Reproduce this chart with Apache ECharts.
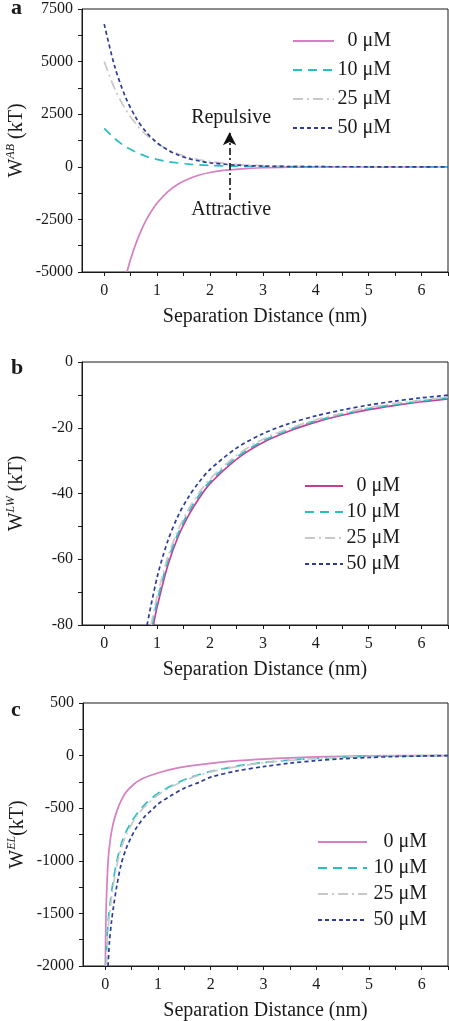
<!DOCTYPE html>
<html><head><meta charset="utf-8">
<script src="https://cdn.jsdelivr.net/npm/echarts@6/dist/echarts.min.js"></script>
<style>html,body{margin:0;padding:0;background:#fff}#c{width:449px;height:1021px}</style>
</head><body><div id="c"></div><script>
// ---------- data ----------
const seriesLabels = ['0 μM', '10 μM', '25 μM', '50 μM'];
const xTickValues = [0, 1, 2, 3, 4, 5, 6];
const xMinorTickValues = [0, 0.5, 1, 1.5, 2, 2.5, 3, 3.5, 4, 4.5, 5, 5.5, 6, 6.5];
const xAxisTitle = 'Separation Distance (nm)';
const panelLetters = ['a', 'b', 'c'];
const yTitleSup = ['AB', 'LW', 'EL'];
const yTitleTail = [' (kT)', ' (kT)', '(kT)'];

// panel a : W^AB
const a0 = [[0.43,-5000],[0.5,-4380],[0.6,-3640],[0.7,-3020],[0.8,-2500],[0.9,-2080],[1.0,-1720],[1.2,-1190],[1.4,-820],[1.6,-570],[1.8,-390],[2.0,-270],[2.3,-160],[2.6,-95],[3.0,-45],[3.5,-18],[4.0,-7],[5.0,-1],[6.5,0]];
const a1 = [[0,1830],[0.2,1340],[0.4,960],[0.6,700],[0.8,490],[1.0,350],[1.2,250],[1.4,180],[1.6,125],[1.8,90],[2.0,65],[2.5,28],[3.0,12],[3.5,5],[4.0,2],[5.0,0],[6.5,0]];
const a2 = [[0,5000],[0.2,3700],[0.4,2750],[0.6,2030],[0.8,1500],[1.0,1120],[1.2,830],[1.4,610],[1.6,450],[1.8,335],[2.0,250],[2.5,115],[3.0,55],[3.5,25],[4.0,12],[5.0,3],[6.5,0]];
const a3 = [[0,6780],[0.2,4750],[0.4,3330],[0.6,2330],[0.8,1630],[1.0,1140],[1.2,800],[1.4,560],[1.6,390],[1.8,275],[2.0,190],[2.5,78],[3.0,32],[3.5,13],[4.0,5],[5.0,1],[6.5,0]];
const arrowLine = [[2.37,-1580],[2.37,1640]];
const annotations = [{text:'Repulsive', x:2.4, y:2320}, {text:'Attractive', x:2.4, y:-2050}];

// panel b : W^LW
const b0 = [[0.93,-80],[1.0,-74.5],[1.2,-62],[1.4,-53],[1.6,-46.5],[1.8,-41.3],[2.0,-37],[2.5,-29.6],[3.0,-24.5],[3.5,-21],[4.0,-18.3],[4.5,-16.2],[5.0,-14.5],[5.5,-13.2],[6.0,-12.1],[6.5,-11.2]];
const b1 = [[0.905,-80],[1.0,-72.8],[1.2,-60.6],[1.4,-52],[1.6,-45.5],[1.8,-40.4],[2.0,-36.3],[2.5,-29],[3.0,-24],[3.5,-20.6],[4.0,-17.9],[4.5,-15.9],[5.0,-14.2],[5.5,-12.9],[6.0,-11.8],[6.5,-10.9]];
const b2 = [[0.885,-80],[1.0,-71.3],[1.2,-59.4],[1.4,-51],[1.6,-44.6],[1.8,-39.6],[2.0,-35.6],[2.5,-28.4],[3.0,-23.5],[3.5,-20.2],[4.0,-17.6],[4.5,-15.6],[5.0,-13.9],[5.5,-12.6],[6.0,-11.6],[6.5,-10.7]];
const b3 = [[0.81,-80],[1.0,-65.5],[1.2,-54.5],[1.4,-46.7],[1.6,-40.9],[1.8,-36.4],[2.0,-32.7],[2.5,-26.2],[3.0,-21.8],[3.5,-18.7],[4.0,-16.4],[4.5,-14.6],[5.0,-13.1],[5.5,-11.9],[6.0,-10.9],[6.5,-10.1]];

// panel c : W^EL
const c0 = [[0.003,-2000],[0.013,-1600],[0.03,-1280],[0.06,-970],[0.1,-790],[0.15,-650],[0.22,-530],[0.3,-430],[0.4,-345],[0.55,-270],[0.7,-220],[1.0,-165],[1.4,-115],[1.8,-85],[2.2,-62],[2.6,-45],[3.0,-33],[3.5,-21],[4.0,-12],[4.5,-7],[5.0,-3],[6.0,0],[6.5,0]];
const c1 = [[0.02,-2000],[0.03,-1800],[0.06,-1560],[0.1,-1380],[0.15,-1200],[0.22,-1010],[0.3,-850],[0.4,-720],[0.5,-630],[0.6,-555],[0.75,-465],[1.0,-360],[1.3,-275],[1.6,-210],[2.0,-150],[2.5,-100],[3.0,-66],[3.5,-43],[4.0,-26],[4.5,-15],[5.0,-7],[5.5,-3],[6.5,0]];
const c2 = [[0.022,-2000],[0.03,-1860],[0.06,-1620],[0.1,-1430],[0.15,-1250],[0.22,-1050],[0.3,-885],[0.4,-750],[0.5,-655],[0.6,-575],[0.75,-485],[1.0,-375],[1.3,-285],[1.6,-218],[2.0,-155],[2.5,-104],[3.0,-69],[3.5,-45],[4.0,-27],[4.5,-16],[5.0,-8],[5.5,-3],[6.5,0]];
const c3 = [[0.055,-2000],[0.08,-1780],[0.12,-1580],[0.16,-1430],[0.22,-1240],[0.3,-1040],[0.4,-880],[0.5,-770],[0.6,-680],[0.75,-580],[0.9,-510],[1.0,-460],[1.25,-380],[1.5,-310],[1.8,-250],[2.0,-205],[2.5,-145],[3.0,-105],[3.5,-72],[4.0,-48],[4.5,-30],[5.0,-18],[5.5,-9],[6.0,-4],[6.5,0]];

const yRanges = [[-5000, 7500, 2500], [-80, 0, 20], [-2000, 500, 500]];

// ---------- styles ----------
const FONT = '"Liberation Serif", "Times New Roman", serif';
const INK = '#1a1a1a';
const pinkColors = ['#d77fc0', '#c63d98', '#d77fc0'];
const cyan = '#27bfc4', gray = '#c8c8c8', blue = '#2b3d98';
const dashes = ['solid', [9, 6], [10, 4, 2, 4], [4, 3]];
const grids = [
  {left: 82, top: 9, width: 366, height: 263},
  {left: 82, top: 362, width: 366, height: 263},
  {left: 83, top: 703, width: 365, height: 263}
];
const legendPos = [
  {left: 292, top: 31, itemWidth: 41, textW: 52, gap: 9},
  {left: 304, top: 476, itemWidth: 38, textW: 52, gap: 6},
  {left: 317, top: 832, itemWidth: 49, textW: 55, gap: 6}
];
const allData = [[a0, a1, a2, a3], [b0, b1, b2, b3], [c0, c1, c2, c3]];

const chart = echarts.init(document.getElementById('c'), null, {renderer: 'canvas'});

const xAxes = [], yAxes = [], series = [], legends = [];
for (let p = 0; p < 3; p++) {
  xAxes.push({
    type: 'value', gridIndex: p, min: -0.42, max: 6.5,
    name: xAxisTitle, nameLocation: 'middle', nameGap: 35, nameMoveOverlap: false,
    nameTextStyle: {fontFamily: FONT, fontSize: 20, color: INK},
    axisLine: {show: true, onZero: false, lineStyle: {color: INK, width: 1}},
    axisTick: {show: true, length: 4, lineStyle: {color: INK}, customValues: xMinorTickValues},
    axisLabel: {fontFamily: FONT, fontSize: 16, color: INK, margin: 11, customValues: xTickValues, formatter: v => String(v)},
    splitLine: {show: false}
  });
  const r = yRanges[p];
  yAxes.push({
    type: 'value', gridIndex: p, min: r[0], max: r[1], interval: r[2],
    name: '{w|W}{s|' + yTitleSup[p] + '}{w|' + yTitleTail[p] + '}',
    nameLocation: 'middle', nameGap: 55, nameRotate: 90, nameMoveOverlap: false,
    nameTextStyle: {
      fontFamily: FONT, color: INK,
      rich: {
        w: {fontFamily: FONT, fontSize: 20, color: INK, lineHeight: 22, verticalAlign: 'bottom'},
        s: {fontFamily: FONT, fontSize: 12, fontStyle: 'italic', color: INK, lineHeight: 22, verticalAlign: 'top', padding: [0, 0, 12, 0]}
      }
    },
    axisLine: {show: true, onZero: false, lineStyle: {color: INK, width: 1}},
    axisTick: {show: true, length: 4, lineStyle: {color: INK}},
    minorTick: {show: true, splitNumber: 2, length: 4, lineStyle: {color: INK}},
    axisLabel: {fontFamily: FONT, fontSize: 16, color: INK, margin: 9, formatter: v => String(v)},
    splitLine: {show: false}
  });
  const colors = [pinkColors[p], cyan, gray, blue];
  for (let s = 0; s < 4; s++) {
    const ser = {
      type: 'line', name: 'abc'[p] + s, xAxisIndex: p, yAxisIndex: p,
      data: allData[p][s], symbol: 'none', showSymbol: false,
      smooth: 0.3, clip: true,
      lineStyle: {color: colors[s], width: 1.7, type: dashes[s]},
      itemStyle: {color: colors[s]}, silent: true, animation: false
    };
    if (p === 0 && s === 0) {
      ser.markLine = {
        silent: true, animation: false,
        symbol: ['none', 'arrow'], symbolSize: [10, 13],
        lineStyle: {color: '#111', width: 1.6, type: [7, 3, 2, 3]},
        itemStyle: {color: '#111'},
        label: {show: false},
        data: [[{coord: arrowLine[0]}, {coord: arrowLine[1]}]]
      };
    }
    series.push(ser);
  }
  const lp = legendPos[p];
  legends.push({
    orient: 'vertical', left: lp.left, top: lp.top,
    itemWidth: lp.itemWidth, itemHeight: 20, itemGap: lp.gap, padding: 0,
    selectedMode: false,
    itemStyle: {color: 'rgba(0,0,0,0)', borderColor: 'rgba(0,0,0,0)', borderWidth: 0, opacity: 0},
    data: [0, 1, 2, 3].map(s => 'abc'[p] + s),
    formatter: n => '{r|' + seriesLabels[+n.slice(1)] + '}',
    textStyle: {
      fontFamily: FONT, fontSize: 20, color: INK,
      rich: {r: {fontFamily: FONT, fontSize: 20, color: INK, width: lp.textW, align: 'right', lineHeight: 20}}
    }
  });
}

chart.setOption({
  animation: false,
  backgroundColor: '#fff',
  grid: grids.map(g => Object.assign({show: true, borderColor: INK, borderWidth: 1, backgroundColor: 'transparent', containLabel: false, outerBoundsMode: 'none'}, g)),
  xAxis: xAxes, yAxis: yAxes, series: series, legend: legends
});

// annotations and panel letters
const gr = [];
annotations.forEach(a => {
  const pt = chart.convertToPixel({gridIndex: 0}, [a.x, a.y]);
  gr.push({type: 'text', x: pt[0], y: pt[1], silent: true,
    style: {text: a.text, fontFamily: FONT, fontSize: 20, fill: INK, align: 'center', verticalAlign: 'middle'}});
});
const letterPos = [[11, 8], [11, 368], [11, 710]];
panelLetters.forEach((t, i) => {
  gr.push({type: 'text', x: letterPos[i][0], y: letterPos[i][1], silent: true,
    style: {text: t, fontFamily: FONT, fontSize: 22, fontWeight: 'bold', fill: INK, align: 'left', verticalAlign: 'middle'}});
});
chart.setOption({graphic: gr});
</script></body></html>
